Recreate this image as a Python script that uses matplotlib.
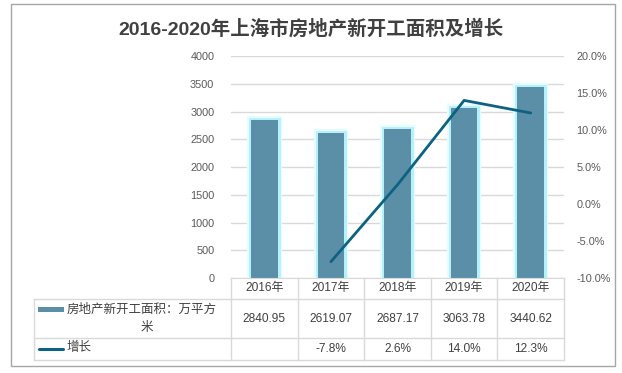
import matplotlib
matplotlib.use("Agg")
import matplotlib.pyplot as plt
import matplotlib.patheffects as pe
from matplotlib import transforms
from matplotlib.lines import Line2D
from matplotlib.patches import Rectangle

plt.rcParams['font.family'] = ['Liberation Sans', 'Noto Sans CJK SC', 'DejaVu Sans']

title = "2016-2020年上海市房地产新开工面积及增长"
years = ["2016年", "2017年", "2018年", "2019年", "2020年"]
area = [2840.95, 2619.07, 2687.17, 3063.78, 3440.62]
area_labels = ["2840.95", "2619.07", "2687.17", "3063.78", "3440.62"]
growth = [None, -7.8, 2.6, 14.0, 12.3]
growth_labels = ["", "-7.8%", "2.6%", "14.0%", "12.3%"]
series_bar = "房地产新开工面积：万平方米"
series_line = "增长"
left_ticks = [0, 500, 1000, 1500, 2000, 2500, 3000, 3500, 4000]
right_ticks = [-10, -5, 0, 5, 10, 15, 20]

W, H = 622, 373
fig = plt.figure(figsize=(W / 100, H / 100), dpi=100)

def fx(x):
    return x / W

def fy(y):
    return 1 - y / H

bar_color = "#5B8FA8"
line_color = "#0D6282"
grid_color = "#D9D9D9"
tick_color = "#595959"

ax_l, ax_r, ax_t, ax_b = 231, 564, 56, 278
ax = fig.add_axes([fx(ax_l), fy(ax_b), fx(ax_r) - fx(ax_l), (ax_b - ax_t) / H])
x = list(range(len(years)))
bars = ax.bar(x, area, width=0.4, color=bar_color, zorder=2)
for b in bars:
    b.set_path_effects([pe.withStroke(linewidth=6, foreground="#E6FCFF"),
                        pe.withStroke(linewidth=3.5, foreground="#B5F1FB"),
                        pe.Normal()])
ax.set_xlim(-0.5, len(years) - 0.5)
ax.set_ylim(0, 4000)
ax.set_yticks(left_ticks)
ax.set_yticklabels([str(t) for t in left_ticks])
ax.yaxis.grid(True, color=grid_color, linewidth=1)
ax.set_axisbelow(True)
ax.set_xticks([])
for s in ["top", "left", "right"]:
    ax.spines[s].set_visible(False)
ax.spines["bottom"].set_color(grid_color)
ax.tick_params(axis="y", length=0, pad=12, labelsize=7.8, labelcolor=tick_color)

ax2 = ax.twinx()
gx = [xi for xi, g in zip(x, growth) if g is not None]
gy = [g for g in growth if g is not None]
ax2.plot(gx, gy, color=line_color, linewidth=2.0, solid_capstyle="round", zorder=3)
ax2.set_ylim(-10, 20)
ax2.set_yticks(right_ticks)
ax2.set_yticklabels([f"{t:.1f}%" for t in right_ticks])
for s in ["top", "left", "right", "bottom"]:
    ax2.spines[s].set_visible(False)
ax2.tick_params(axis="y", length=0, pad=9, labelsize=7.8, labelcolor=tick_color)

# title
fig.text(fx(311), fy(29), title, ha="center", va="center", fontsize=14, fontweight="bold",
         color="#404040", family=["Liberation Sans", "Noto Sans CJK SC"])

# outer frame
fig.add_artist(Rectangle((fx(11), fy(366)), fx(615) - fx(11), (366 - 4) / H,
                         transform=fig.transFigure, fill=False, edgecolor="#A6A6A6", linewidth=1))

# data table
bt = transforms.blended_transform_factory(ax.transData, fig.transFigure)
tl, r1, r2, r3 = 34, 299, 338, 360
for i in range(len(years) + 1):
    xb = i - 0.5
    fig.add_artist(Line2D([xb, xb], [fy(ax_b), fy(r3)], transform=bt, color=grid_color, linewidth=1))
fig.add_artist(Line2D([fx(tl), fx(tl)], [fy(r1), fy(r3)], transform=fig.transFigure, color=grid_color, linewidth=1))
for yy in (r1, r2, r3):
    fig.add_artist(Line2D([fx(tl), fx(ax_r)], [fy(yy), fy(yy)], transform=fig.transFigure,
                          color=grid_color, linewidth=1))

fs = 8.6
for xi, yr, al, gl in zip(x, years, area_labels, growth_labels):
    fig.text(xi, fy(288), yr, transform=bt, ha="center", va="center", fontsize=fs, color="#404040")
    fig.text(xi, fy(318.5), al, transform=bt, ha="center", va="center", fontsize=fs, color="#404040")
    if gl:
        fig.text(xi, fy(349), gl, transform=bt, ha="center", va="center", fontsize=fs, color="#404040")

# legend keys in table
fig.add_artist(Rectangle((fx(38), fy(312)), fx(64) - fx(38), 5 / H, transform=fig.transFigure,
                         facecolor=bar_color, edgecolor="none"))
fig.text(fx(67), fy(309), series_bar[:-1], ha="left", va="center", fontsize=9,
         color="#404040", family=["Noto Sans CJK SC"])
fig.text(fx(147), fy(328), series_bar[-1], ha="center", va="center", fontsize=9,
         color="#404040", family=["Noto Sans CJK SC"])
fig.add_artist(Line2D([fx(39), fx(63)], [fy(348.5), fy(348.5)], transform=fig.transFigure,
                      color=line_color, linewidth=2.2, solid_capstyle="round"))
fig.text(fx(67), fy(348), series_line, ha="left", va="center", fontsize=9,
         color="#404040", family=["Noto Sans CJK SC"])

fig.savefig("out.png", dpi=100)
